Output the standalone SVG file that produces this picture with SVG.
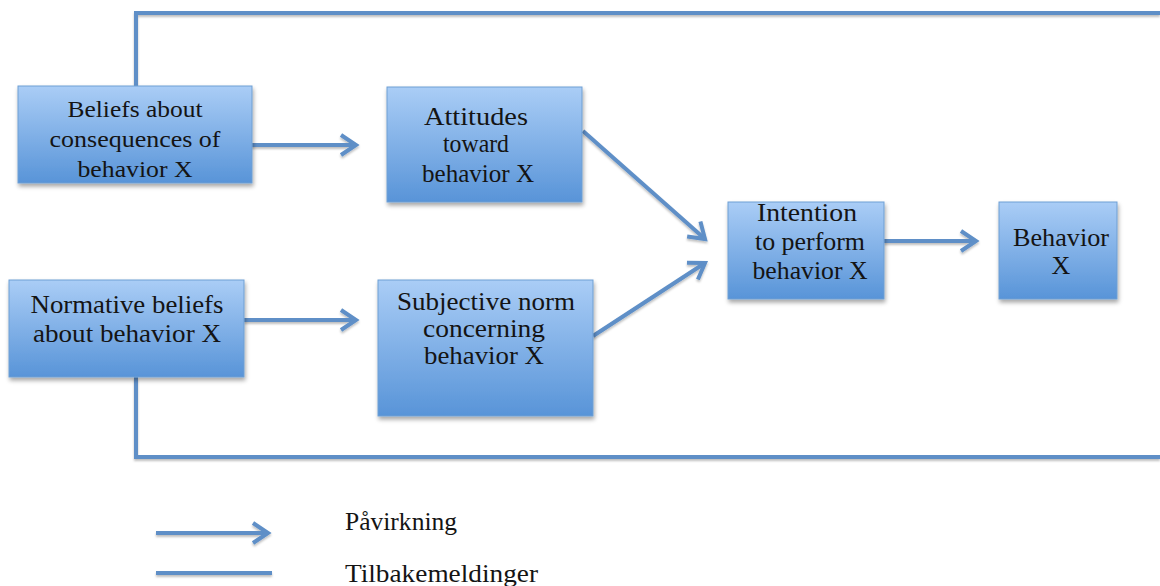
<svg xmlns="http://www.w3.org/2000/svg" width="1160" height="586" viewBox="0 0 1160 586">
<style>
.box{fill:url(#g);stroke:#6f9fd3;stroke-width:1;filter:url(#sh)}
.ln{fill:none;stroke:#5e8fc7;stroke-width:4;filter:url(#ls)}
.ar{fill:none;stroke:#5e8fc7;stroke-width:4;marker-end:url(#ah);filter:url(#ls)}
.t{font-family:"Liberation Serif","Times New Roman",serif;font-size:24px;fill:#141414;text-anchor:middle}
.c{font-size:26px}
.lg{font-family:"Liberation Serif","Times New Roman",serif;font-size:26px;fill:#141414}
</style>
<defs>
<linearGradient id="g" x1="0" y1="0" x2="0" y2="1">
<stop offset="0" stop-color="#aacdf6"/>
<stop offset="1" stop-color="#5894d8"/>
</linearGradient>
<filter id="sh" x="-10%" y="-10%" width="125%" height="130%">
<feDropShadow dx="1" dy="3" stdDeviation="2" flood-color="#000" flood-opacity="0.35"/>
</filter>
<filter id="ls" filterUnits="userSpaceOnUse" x="0" y="0" width="1160" height="586">
<feDropShadow dx="0" dy="2" stdDeviation="1.2" flood-color="#000" flood-opacity="0.25"/>
</filter>
<marker id="ah" markerUnits="userSpaceOnUse" markerWidth="30" markerHeight="30" viewBox="-20 -15 30 30" refX="0" refY="0" orient="auto">
<path d="M-15,-10 L0,0 L-15,10" fill="none" stroke="#5e8fc7" stroke-width="4" stroke-linejoin="miter"/>
</marker>
</defs>
<rect width="1160" height="586" fill="#fff"/>
<g id="connectors">
<path class="ln" d="M136,90 V13 H1160"/>
<path class="ln" d="M136,377 V457 H1160"/>
<path class="ar" d="M245,145 H356"/>
<path class="ar" d="M244,320 H356"/>
<path class="ar" d="M583,131 L705,239"/>
<path class="ar" d="M593,336 L705,263"/>
<path class="ar" d="M884,241 H976"/>
</g>
<g id="beliefs">
<rect class="box" x="18" y="86" width="234" height="97"/>
<text class="t" x="135" y="117" textLength="135" lengthAdjust="spacingAndGlyphs">Beliefs about</text>
<text class="t" x="135" y="147" textLength="171" lengthAdjust="spacingAndGlyphs">consequences of</text>
<text class="t" x="135" y="177" textLength="115" lengthAdjust="spacingAndGlyphs">behavior X</text>
</g>
<g id="attitudes">
<rect class="box" x="387" y="87" width="195" height="115"/>
<text class="t c" x="476" y="125" textLength="104" lengthAdjust="spacingAndGlyphs">Attitudes</text>
<text class="t c" x="476" y="152" textLength="66" lengthAdjust="spacingAndGlyphs">toward</text>
<text class="t c" x="478" y="182" textLength="112" lengthAdjust="spacingAndGlyphs">behavior X</text>
</g>
<g id="normative">
<rect class="box" x="9" y="280" width="235" height="97"/>
<text class="t c" x="127" y="313" textLength="193" lengthAdjust="spacingAndGlyphs">Normative beliefs</text>
<text class="t c" x="127" y="342" textLength="188" lengthAdjust="spacingAndGlyphs">about behavior X</text>
</g>
<g id="subjective">
<rect class="box" x="378" y="280" width="215" height="136"/>
<text class="t c" x="486" y="310" textLength="178" lengthAdjust="spacingAndGlyphs">Subjective norm</text>
<text class="t c" x="484" y="337" textLength="122" lengthAdjust="spacingAndGlyphs">concerning</text>
<text class="t c" x="484" y="364" textLength="120" lengthAdjust="spacingAndGlyphs">behavior X</text>
</g>
<g id="intention">
<rect class="box" x="728" y="202" width="156" height="97"/>
<text class="t c" x="807" y="221" textLength="100" lengthAdjust="spacingAndGlyphs">Intention</text>
<text class="t c" x="810" y="250" textLength="110" lengthAdjust="spacingAndGlyphs">to perform</text>
<text class="t c" x="810" y="279" textLength="115" lengthAdjust="spacingAndGlyphs">behavior X</text>
</g>
<g id="behavior">
<rect class="box" x="999" y="202" width="118" height="97"/>
<text class="t c" x="1061" y="246" textLength="96" lengthAdjust="spacingAndGlyphs">Behavior</text>
<text class="t c" x="1061" y="274">X</text>
</g>
<g id="legend">
<path class="ar" d="M156,533 H268"/>
<path class="ln" d="M156,573 H272"/>
<text class="lg" x="345" y="530" textLength="112" lengthAdjust="spacingAndGlyphs">Påvirkning</text>
<text class="lg" x="345" y="582" textLength="193" lengthAdjust="spacingAndGlyphs">Tilbakemeldinger</text>
</g>
</svg>
